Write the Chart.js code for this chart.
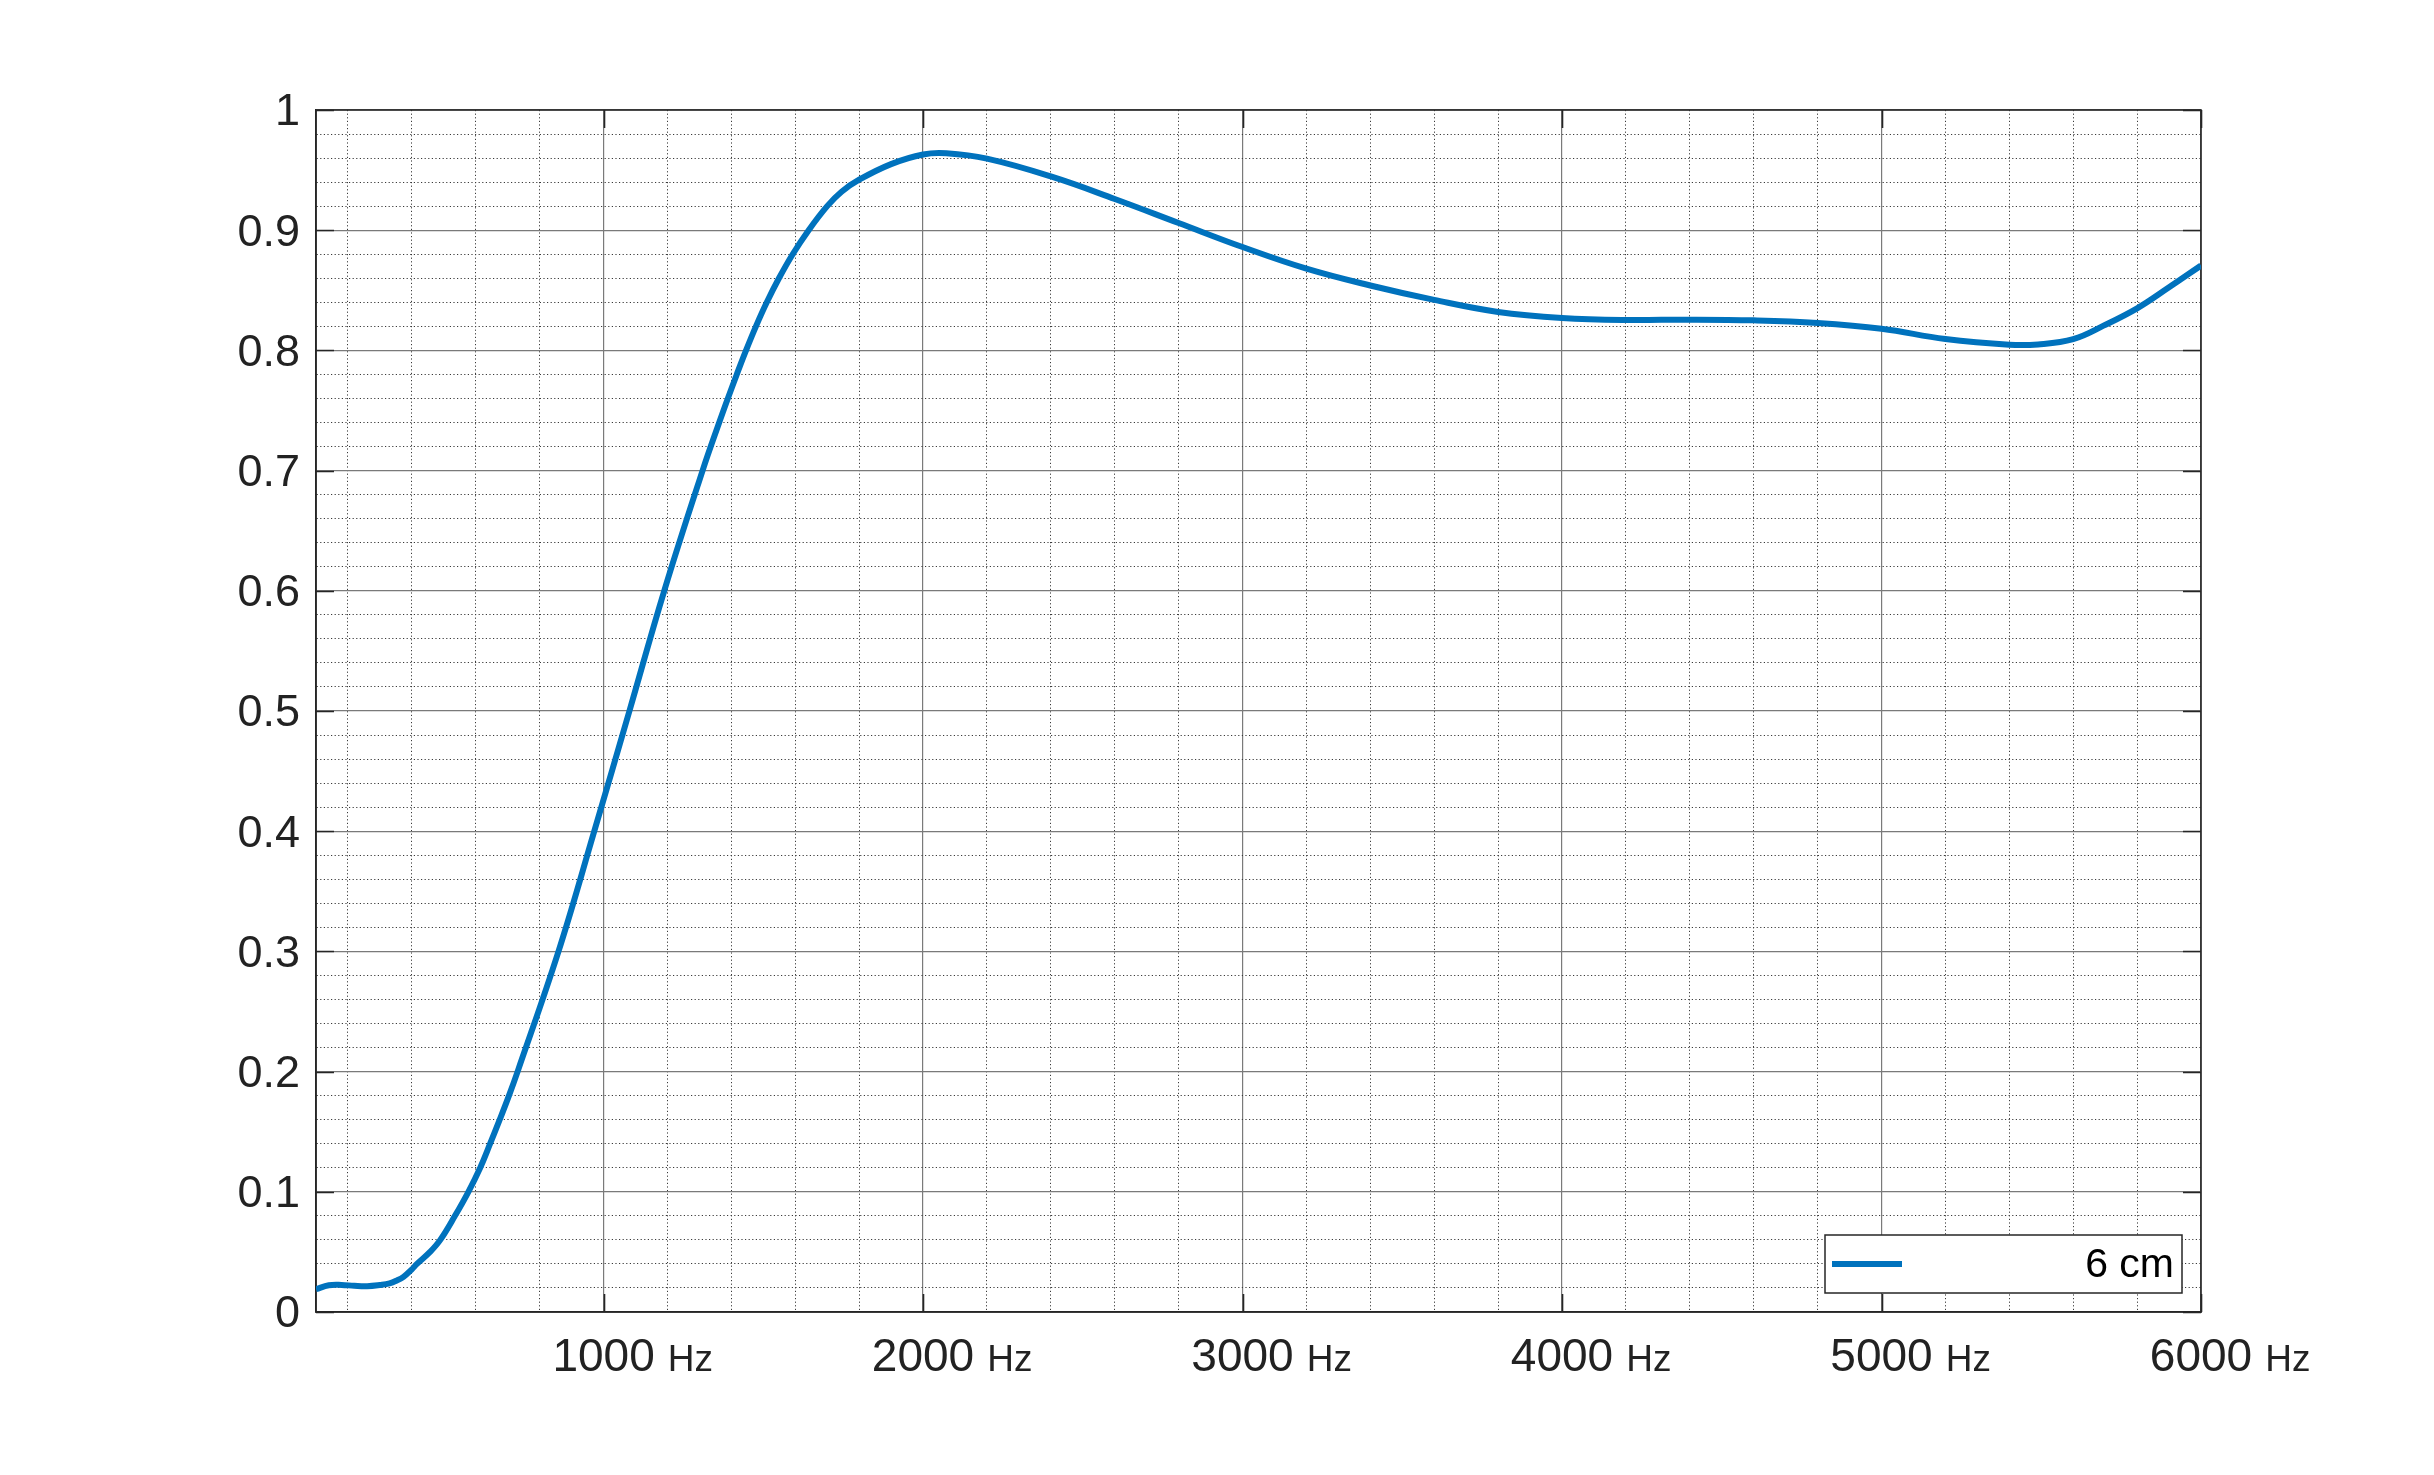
<!DOCTYPE html>
<html>
<head>
<meta charset="utf-8">
<script src="https://cdn.jsdelivr.net/npm/chart.js@4.4.1/dist/chart.umd.min.js"></script>
<style>
html,body{margin:0;padding:0;background:#ffffff;}
canvas{display:block;}
</style>
</head>
<body>
<canvas id="c" width="2434" height="1475"></canvas>
<script>
// ---- data ----
const frequencyHz = [100,140,180,220,260,300,330,353,374,400,416,457,489,535,577,614,645,675,704,731,859,971,1081,1190,1310,1362,1389,1417,1446,1477,1511,1549,1592,1642,1700,1745,1800,1900,2000,2073,2200,2400,2600,2800,3000,3200,3400,3600,3800,4000,4200,4400,4600,4800,5000,5200,5400,5490,5600,5695,5800,5900,6000];
const absorption  = [0.019,0.0222,0.0225,0.0218,0.0215,0.0225,0.0238,0.0262,0.0293,0.0355,0.040,0.050,0.060,0.080,0.100,0.120,0.140,0.160,0.180,0.200,0.300,0.400,0.500,0.600,0.700,0.740,0.760,0.780,0.800,0.820,0.840,0.860,0.880,0.900,0.920,0.932,0.942,0.955,0.963,0.964,0.9595,0.9447,0.926,0.906,0.886,0.868,0.854,0.842,0.832,0.827,0.8253,0.8256,0.825,0.8228,0.818,0.8094,0.8047,0.805,0.8094,0.8206,0.835,0.8525,0.8706];
const seriesLabel = '6 cm';
const xRange = [100, 6000];
const xMajorTicks = [1000, 2000, 3000, 4000, 5000, 6000];
const xMinorStep = 200;
const xUnit = 'Hz';
const yRange = [0, 1];
const yMajorTicks = [0, 0.1, 0.2, 0.3, 0.4, 0.5, 0.6, 0.7, 0.8, 0.9, 1];
const yTickLabels = ['0', '0.1', '0.2', '0.3', '0.4', '0.5', '0.6', '0.7', '0.8', '0.9', '1'];
const yMinorStep = 0.02;

// ---- styles ----
const FONT = '"Liberation Sans", Arial, Helvetica, sans-serif';
const TEXT = '#222222';
const AXIS = '#262626';
const MAJOR_GRID = '#7a7a7a';
const MINOR_GRID = '#3a3a3a';
const LINE = '#0072BD';
const X_FONT = 46, X_PAD = 19;

const isMajor = (v, list) => list.some(m => Math.abs(m - v) < 1e-7);

const points = frequencyHz.map((f, i) => ({x: f, y: absorption[i]}));

const hzPlugin = {
  id: 'hzUnits',
  afterDraw(chart) {
    const xs = chart.scales.x, ctx = chart.ctx;
    ctx.save();
    ctx.fillStyle = TEXT;
    ctx.font = X_FONT + 'px ' + FONT;
    ctx.textBaseline = 'middle';
    const d = ctx.measureText('0').actualBoundingBoxDescent;
    const mid = xs.top + X_PAD + X_FONT * 1.2 / 2;
    const base = mid + d;
    ctx.textAlign = 'left';
    xMajorTicks.forEach(v => {
      ctx.font = X_FONT + 'px ' + FONT;
      ctx.textBaseline = 'middle';
      const w = ctx.measureText(String(v)).width;
      const px = xs.getPixelForValue(v);
      ctx.font = '37px ' + FONT;
      ctx.textBaseline = 'alphabetic';
      ctx.fillText(xUnit, px + w / 2 + 13, base);
    });
    ctx.restore();
  }
};

const framePlugin = {
  id: 'frame',
  beforeDatasetsDraw(chart) {
    const a = chart.chartArea, ctx = chart.ctx;
    const xs = chart.scales.x, ys = chart.scales.y;
    ctx.save();
    ctx.strokeStyle = AXIS;
    ctx.lineWidth = 1.6;
    ctx.strokeRect(a.left, a.top, a.right - a.left, a.bottom - a.top);
    const L = 18;
    ctx.beginPath();
    xMajorTicks.forEach(v => {
      const px = Math.round(xs.getPixelForValue(v)) + 0.5;
      ctx.moveTo(px, a.bottom); ctx.lineTo(px, a.bottom - L);
      ctx.moveTo(px, a.top); ctx.lineTo(px, a.top + L);
    });
    yMajorTicks.forEach(v => {
      const py = Math.round(ys.getPixelForValue(v)) + 0.5;
      ctx.moveTo(a.left, py); ctx.lineTo(a.left + L, py);
      ctx.moveTo(a.right, py); ctx.lineTo(a.right - L, py);
    });
    ctx.stroke();
    ctx.restore();
  }
};

const legendPlugin = {
  id: 'boxLegend',
  afterDraw(chart) {
    const a = chart.chartArea, ctx = chart.ctx;
    const ds = chart.data.datasets[0];
    const w = 357, h = 58;
    const x0 = a.right - 19 - w, y0 = a.bottom - 19 - h;
    ctx.save();
    ctx.fillStyle = '#ffffff';
    ctx.fillRect(x0, y0, w, h);
    ctx.strokeStyle = AXIS;
    ctx.lineWidth = 1.5;
    ctx.strokeRect(x0, y0, w, h);
    ctx.strokeStyle = ds.borderColor;
    ctx.lineWidth = 6;
    ctx.beginPath();
    ctx.moveTo(x0 + 7, y0 + h / 2);
    ctx.lineTo(x0 + 77, y0 + h / 2);
    ctx.stroke();
    ctx.fillStyle = '#000000';
    ctx.font = '41px ' + FONT;
    ctx.textAlign = 'right';
    ctx.textBaseline = 'middle';
    ctx.fillText(ds.label, x0 + w - 8, y0 + h / 2 + 2);
    ctx.restore();
  }
};

new Chart(document.getElementById('c'), {
  type: 'line',
  data: {
    datasets: [{
      label: seriesLabel,
      data: points,
      borderColor: LINE,
      backgroundColor: LINE,
      borderWidth: 6,
      pointRadius: 0,
      tension: 0.4,
      capBezierPoints: true,
      fill: false
    }]
  },
  options: {
    responsive: false,
    animation: false,
    devicePixelRatio: 1,
    layout: {padding: {top: 110, right: 233, left: 0, bottom: 0}},
    plugins: {legend: {display: false}, tooltip: {enabled: false}, title: {display: false}},
    scales: {
      x: {
        type: 'linear',
        min: xRange[0], max: xRange[1],
        afterBuildTicks(scale) {
          const t = [{value: xRange[0]}];
          for (let v = xMinorStep; v <= xRange[1] + 1e-6; v += xMinorStep) t.push({value: v});
          scale.ticks = t;
        },
        afterFit(scale) { scale.height = 163; },
        ticks: {
          autoSkip: false, maxRotation: 0, minRotation: 0, padding: X_PAD,
          color: TEXT, font: {family: FONT, size: X_FONT},
          callback: (v) => isMajor(v, xMajorTicks) ? String(v) : ''
        },
        grid: {
          drawTicks: false,
          color: (c) => (c.tick && c.tick.value === xRange[0]) ? 'rgba(0,0,0,0)' : (isMajor(c.tick.value, xMajorTicks) ? MAJOR_GRID : MINOR_GRID),
          lineWidth: (c) => isMajor(c.tick.value, xMajorTicks) ? 1.2 : 1
        },
        border: {
          display: true, color: AXIS, width: 1.6,
          dash: (c) => (c.tick && !isMajor(c.tick.value, xMajorTicks)) ? [1.2, 2.4] : []
        }
      },
      y: {
        type: 'linear',
        min: yRange[0], max: yRange[1],
        afterBuildTicks(scale) {
          const t = [];
          const n = Math.round((yRange[1] - yRange[0]) / yMinorStep);
          for (let i = 0; i <= n; i++) t.push({value: +(yRange[0] + i * yMinorStep).toFixed(4)});
          scale.ticks = t;
        },
        afterFit(scale) { scale.width = 316; },
        ticks: {
          autoSkip: false, padding: 16, labelOffset: 3,
          color: TEXT, font: {family: FONT, size: 45},
          callback: (v) => {
            const i = yMajorTicks.findIndex(m => Math.abs(m - v) < 1e-7);
            return i >= 0 ? yTickLabels[i] : '';
          }
        },
        grid: {
          drawTicks: false,
          color: (c) => (c.tick && c.tick.value === yRange[0]) ? 'rgba(0,0,0,0)' : (isMajor(c.tick.value, yMajorTicks) ? MAJOR_GRID : MINOR_GRID),
          lineWidth: (c) => isMajor(c.tick.value, yMajorTicks) ? 1.2 : 1
        },
        border: {
          display: true, color: AXIS, width: 1.6,
          dash: (c) => (c.tick && !isMajor(c.tick.value, yMajorTicks)) ? [1.2, 2.4] : []
        }
      }
    }
  },
  plugins: [framePlugin, hzPlugin, legendPlugin]
});
</script>
</body>
</html>
